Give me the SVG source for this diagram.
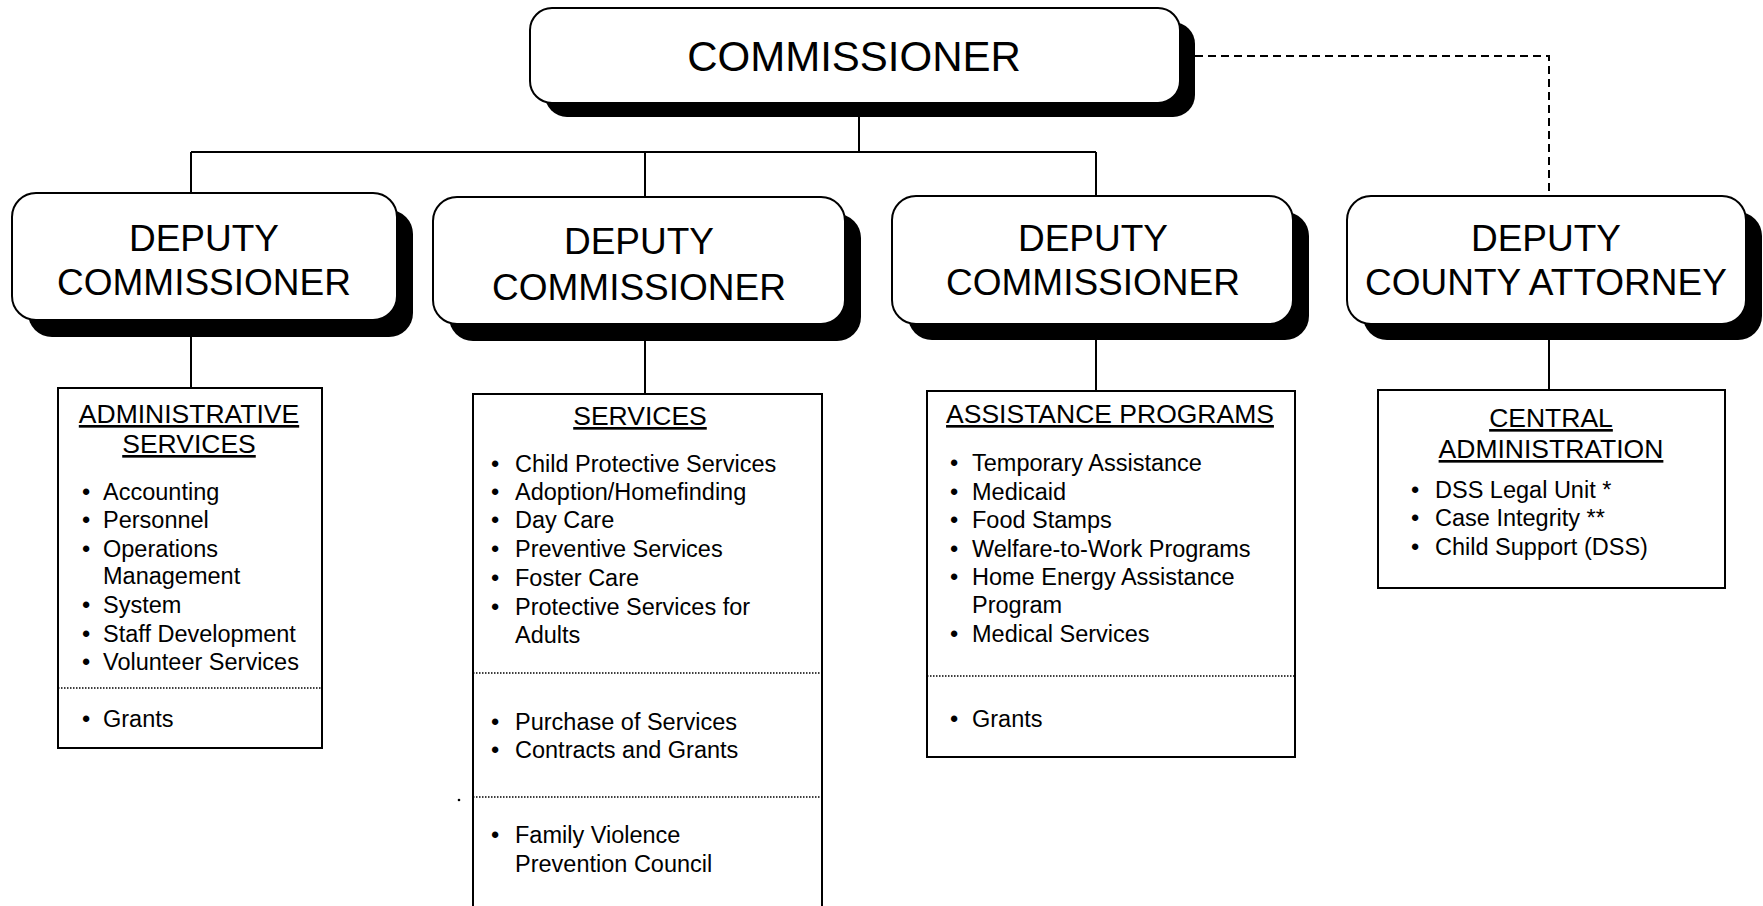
<svg xmlns="http://www.w3.org/2000/svg" width="1763" height="906" viewBox="0 0 1763 906">
<style>
.bg{fill:#fff}
.shadow{fill:#000}
.rbox{fill:#fff;stroke:#000;stroke-width:2}
.sbox{fill:#fff;stroke:#000;stroke-width:2}
.line{stroke:#000;stroke-width:2;fill:none}
.dash{stroke:#000;stroke-width:2;fill:none;stroke-dasharray:8 5}
.dot{stroke:#000;stroke-width:1.4;fill:none;stroke-dasharray:1.5 1.5}
.big{font-family:"Liberation Sans",Arial,sans-serif;font-size:42px;fill:#000;text-anchor:middle}
.dep{font-family:"Liberation Sans",Arial,sans-serif;font-size:37px;fill:#000;text-anchor:middle}
.hdr{font-family:"Liberation Sans",Arial,sans-serif;font-size:26.5px;fill:#000;text-anchor:middle;text-decoration:underline}
.it{font-family:"Liberation Sans",Arial,sans-serif;font-size:23.5px;fill:#000}
</style>
<rect class="bg" x="0" y="0" width="1763" height="906"/>
<g id="connectors">
<path class="line" d="M859 103 V152 M191 152 H1096 M191 152 V195 M645 152 V198 M1096 152 V197"/>
<path class="line" d="M191 320 V388 M645 323 V394 M1096 322 V391 M1549 322 V390"/>
<path class="dash" d="M1195 56 H1549 V196"/>
</g>
<g id="commissioner">
<rect class="shadow" x="545" y="22" width="650" height="95" rx="22"/>
<rect class="rbox" x="530" y="8" width="650" height="95" rx="22"/>
<text class="big" x="854" y="71">COMMISSIONER</text>
</g>
<g id="deputy1">
<rect class="shadow" x="28" y="210" width="385" height="127" rx="24"/>
<rect class="rbox" x="12" y="193" width="385" height="127" rx="24"/>
<text class="dep" x="204" y="251">DEPUTY</text>
<text class="dep" x="204" y="295">COMMISSIONER</text>
</g>
<g id="deputy2">
<rect class="shadow" x="449" y="214" width="412" height="127" rx="24"/>
<rect class="rbox" x="433" y="197" width="412" height="127" rx="24"/>
<text class="dep" x="639" y="254">DEPUTY</text>
<text class="dep" x="639" y="300">COMMISSIONER</text>
</g>
<g id="deputy3">
<rect class="shadow" x="908" y="212" width="401" height="128" rx="24"/>
<rect class="rbox" x="892" y="196" width="401" height="128" rx="24"/>
<text class="dep" x="1093" y="251">DEPUTY</text>
<text class="dep" x="1093" y="295">COMMISSIONER</text>
</g>
<g id="deputy4">
<rect class="shadow" x="1363" y="212" width="399" height="128" rx="24"/>
<rect class="rbox" x="1347" y="196" width="399" height="128" rx="24"/>
<text class="dep" x="1546" y="251">DEPUTY</text>
<text class="dep" x="1546" y="295">COUNTY ATTORNEY</text>
</g>
<g id="admin-services">
<rect class="sbox" x="58" y="388" width="264" height="360"/>
<text class="hdr" x="189" y="423">ADMINISTRATIVE</text>
<text class="hdr" x="189" y="453">SERVICES</text>
<g class="it">
<text x="82" y="500">•</text><text x="103" y="500">Accounting</text>
<text x="82" y="528">•</text><text x="103" y="528">Personnel</text>
<text x="82" y="557">•</text><text x="103" y="557">Operations</text>
<text x="103" y="584">Management</text>
<text x="82" y="613">•</text><text x="103" y="613">System</text>
<text x="82" y="642">•</text><text x="103" y="642">Staff Development</text>
<text x="82" y="670">•</text><text x="103" y="670">Volunteer Services</text>
<text x="82" y="727">•</text><text x="103" y="727">Grants</text>
</g>
<line class="dot" x1="58" y1="688" x2="323" y2="688"/>
</g>
<g id="services">
<path class="sbox" d="M473 912 V394 H822 V912"/>
<text class="hdr" x="640" y="425">SERVICES</text>
<g class="it">
<text x="491" y="472">•</text><text x="515" y="472">Child Protective Services</text>
<text x="491" y="500">•</text><text x="515" y="500">Adoption/Homefinding</text>
<text x="491" y="528">•</text><text x="515" y="528">Day Care</text>
<text x="491" y="557">•</text><text x="515" y="557">Preventive Services</text>
<text x="491" y="586">•</text><text x="515" y="586">Foster Care</text>
<text x="491" y="615">•</text><text x="515" y="615">Protective Services for</text>
<text x="515" y="643">Adults</text>
<text x="491" y="730">•</text><text x="515" y="730">Purchase of Services</text>
<text x="491" y="758">•</text><text x="515" y="758">Contracts and Grants</text>
<text x="491" y="843">•</text><text x="515" y="843">Family Violence</text>
<text x="515" y="872">Prevention Council</text>
</g>
<line class="dot" x1="473" y1="673" x2="822" y2="673"/>
<line class="dot" x1="473" y1="797" x2="822" y2="797"/>
<circle cx="459" cy="800" r="1.3" fill="#000"/>
</g>
<g id="assistance-programs">
<rect class="sbox" x="927" y="391" width="368" height="366"/>
<text class="hdr" x="1110" y="423">ASSISTANCE PROGRAMS</text>
<g class="it">
<text x="950" y="471">•</text><text x="972" y="471">Temporary Assistance</text>
<text x="950" y="500">•</text><text x="972" y="500">Medicaid</text>
<text x="950" y="528">•</text><text x="972" y="528">Food Stamps</text>
<text x="950" y="557">•</text><text x="972" y="557">Welfare-to-Work Programs</text>
<text x="950" y="585">•</text><text x="972" y="585">Home Energy Assistance</text>
<text x="972" y="613">Program</text>
<text x="950" y="642">•</text><text x="972" y="642">Medical Services</text>
<text x="950" y="727">•</text><text x="972" y="727">Grants</text>
</g>
<line class="dot" x1="927" y1="676" x2="1295" y2="676"/>
</g>
<g id="central-administration">
<rect class="sbox" x="1378" y="390" width="347" height="198"/>
<text class="hdr" x="1551" y="427">CENTRAL</text>
<text class="hdr" x="1551" y="458">ADMINISTRATION</text>
<g class="it">
<text x="1411" y="498">•</text><text x="1435" y="498">DSS Legal Unit *</text>
<text x="1411" y="526">•</text><text x="1435" y="526">Case Integrity **</text>
<text x="1411" y="555">•</text><text x="1435" y="555">Child Support (DSS)</text>
</g>
</g>
</svg>
